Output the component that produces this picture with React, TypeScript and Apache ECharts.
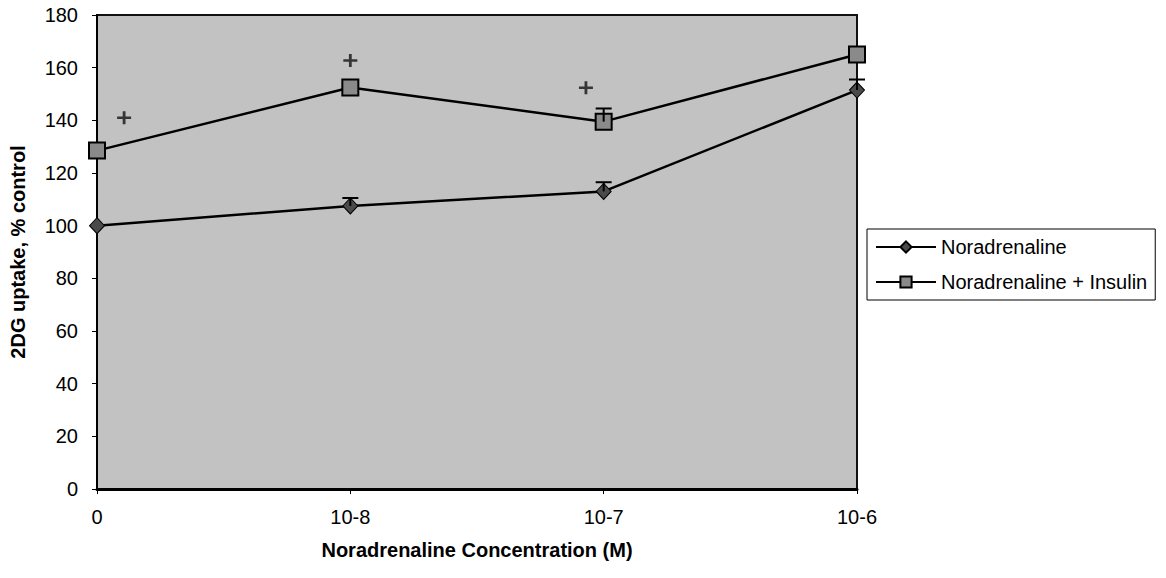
import React, { useEffect, useRef } from "react";
import * as echarts from "echarts";

const categories = ["0", "10-8", "10-7", "10-6"];
const yTicksMax = 180;
const noradrenaline = [100, 107.5, 113, 151.5];
const noradrenalineInsulin = [128.5, 152.5, 139.5, 165];
// error bars: [categoryIndex, value, upper]
const noraErr = [
  [1, 107.5, 110.5],
  [2, 113, 116.5],
  [3, 151.5, 155.5],
];
const insErr = [[2, 139.5, 144.5]];
// stray "+" marks in the figure: [x position on category scale, value]
const plusMarks = [
  [0.107, 141],
  [1.0, 162.7],
  [1.93, 152.4],
];

const FONT = "'Liberation Sans', Arial, sans-serif";

export default function App() {
  const ref = useRef<HTMLDivElement>(null);
  useEffect(() => {
    if (!ref.current) return;
    const chart = echarts.init(ref.current, undefined, { renderer: "svg" });
    const errRender = (params: any, api: any) => {
      const x = api.value(0);
      const v = api.value(1);
      const u = api.value(2);
      const p0 = api.coord([x, v]);
      const p1 = api.coord([x, u]);
      const style = { stroke: "#000", lineWidth: 2 };
      return {
        type: "group",
        children: [
          { type: "line", shape: { x1: p0[0], y1: p0[1], x2: p1[0], y2: p1[1] }, style },
          { type: "line", shape: { x1: p1[0] - 8, y1: p1[1], x2: p1[0] + 8, y2: p1[1] }, style },
        ],
      };
    };
    chart.setOption({
      animation: false,
      backgroundColor: "#fff",
      grid: {
        left: 97,
        right: 309,
        top: 15,
        bottom: 89,
        show: true,
        backgroundColor: "#c2c2c2",
        borderColor: "#111",
        borderWidth: 2,
      },
      legend: {
        orient: "vertical",
        left: 867,
        top: 229,
        itemWidth: 60,
        itemHeight: 14,
        itemGap: 15,
        padding: [8, 8, 8, 8],
        backgroundColor: "#fff",
        borderColor: "#000",
        borderWidth: 1,
        borderRadius: 0,
        textStyle: { fontFamily: FONT, fontSize: 20, color: "#000" },
        data: ["Noradrenaline", "Noradrenaline + Insulin"],
      },
      xAxis: [
        {
          type: "category",
          data: categories,
          boundaryGap: false,
          axisLine: { lineStyle: { color: "#000", width: 3 } },
          axisTick: { show: true, length: 5, lineStyle: { color: "#000" } },
          axisLabel: { fontFamily: FONT, fontSize: 20, color: "#000", margin: 18 },
          name: "Noradrenaline Concentration (M)",
          nameLocation: "middle",
          nameGap: 51,
          nameTextStyle: { fontFamily: FONT, fontSize: 20, fontWeight: "bold", color: "#000" },
        },
        { type: "value", min: 0, max: 3, show: false },
      ],
      yAxis: {
        type: "value",
        min: 0,
        max: yTicksMax,
        interval: 20,
        splitLine: { show: false },
        axisLine: { show: true, lineStyle: { color: "#000", width: 2 } },
        axisTick: { show: true, length: 5, lineStyle: { color: "#000" } },
        axisLabel: { fontFamily: FONT, fontSize: 20, color: "#000", margin: 19 },
        name: "2DG uptake, % control",
        nameLocation: "middle",
        nameGap: 69,
        nameTextStyle: { fontFamily: FONT, fontSize: 20, fontWeight: "bold", color: "#000" },
      },
      series: [
        {
          name: "Noradrenaline",
          type: "line",
          data: noradrenaline,
          symbol: "diamond",
          symbolSize: [15, 16],
          itemStyle: { color: "#4a4a4a", borderColor: "#000", borderWidth: 1 },
          lineStyle: { color: "#000", width: 2.5 },
          z: 3,
        },
        {
          name: "Noradrenaline + Insulin",
          type: "line",
          data: noradrenalineInsulin,
          symbol: "rect",
          symbolSize: 16,
          itemStyle: { color: "#8a8a8a", borderColor: "#000", borderWidth: 2 },
          lineStyle: { color: "#000", width: 2.5 },
          z: 3,
        },
        {
          type: "custom",
          renderItem: errRender,
          data: noraErr,
          encode: { x: 0, y: [1, 2] },
          z: 4,
        },
        {
          type: "custom",
          renderItem: errRender,
          data: insErr,
          encode: { x: 0, y: [1, 2] },
          z: 4,
        },
        {
          type: "scatter",
          xAxisIndex: 1,
          data: plusMarks,
          symbol: "path://M4,0H6V4H10V6H6V10H4V6H0V4H4Z",
          symbolSize: [14, 13],
          itemStyle: { color: "#111" },
          z: 4,
        },
      ],
    });
    return () => chart.dispose();
  }, []);
  return <div ref={ref} style={{ width: 1166, height: 578, position: "absolute", left: 0, top: 0 }} />;
}
